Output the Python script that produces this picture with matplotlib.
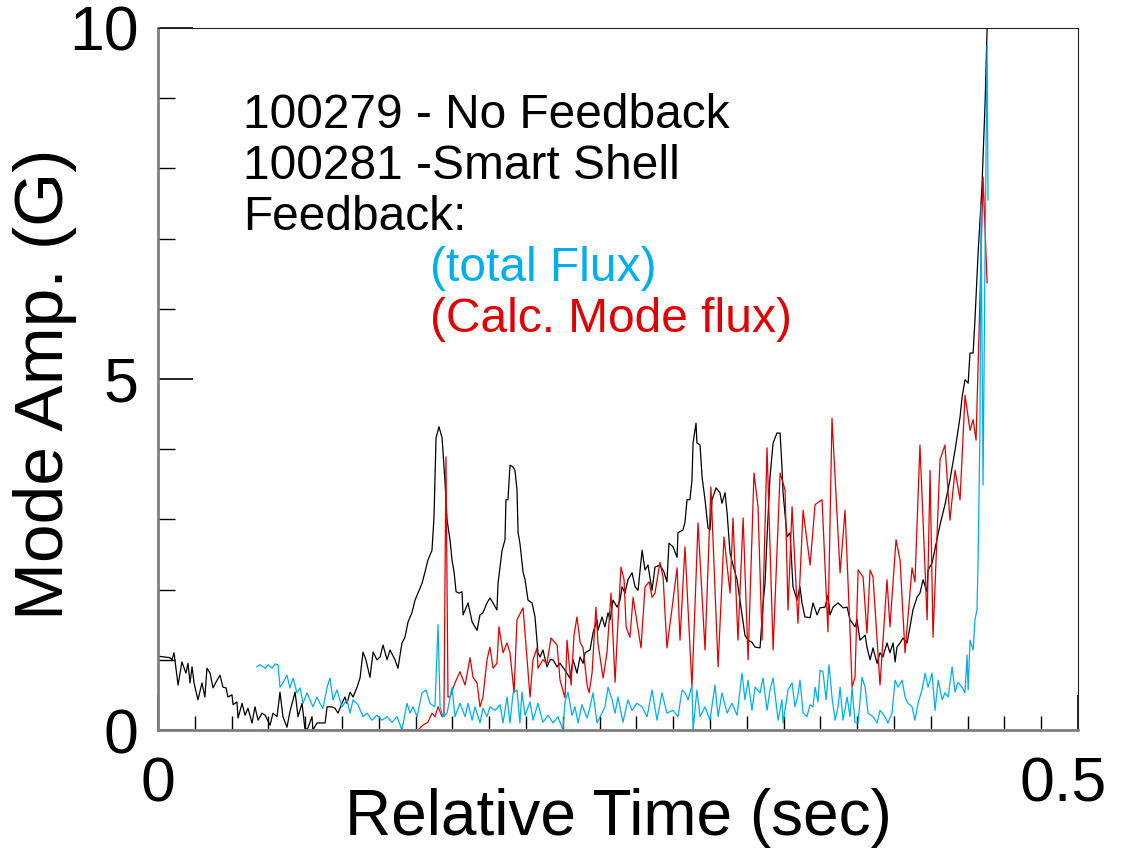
import numpy as np
import matplotlib
matplotlib.use("Agg")
import matplotlib.pyplot as plt
from matplotlib.ticker import MultipleLocator, FixedLocator
from matplotlib.transforms import ScaledTranslation

plt.rcParams['font.family'] = ['Liberation Sans', 'DejaVu Sans']

# shot 100279 - no feedback (time in ms, mode amplitude in G)
t_nofb = [0.5, 6.5, 7.6, 8.7, 10.9, 13.0, 15.2, 16.3, 17.4, 18.5, 19.6, 21.7, 23.9, 25.5,
          26.6, 28.3, 29.9, 32.1, 33.7, 35.3, 37.0, 38.0, 40.2, 40.8, 42.9, 43.5, 45.7,
          47.3, 48.9, 51.1, 52.7, 54.4, 56.5, 58.2, 60.9, 62.5, 64.7, 66.3, 67.9, 70.1,
          71.7, 74.5, 76.1, 78.3, 79.9, 81.5, 83.7, 84.2, 86.4, 90.8, 91.9, 94.6, 96.2,
          97.8, 100.0, 101.6, 102.7, 104.4, 106.0, 108.2, 109.8, 111.4, 113.0, 115.2,
          116.9, 119.0, 120.7, 122.3, 124.5, 126.1, 128.8, 130.4, 132.6, 134.2, 135.9,
          138.0, 139.7, 141.3, 143.5, 145.1, 146.7, 148.9, 150.0, 151.1, 152.7, 154.4,
          156.0, 157.1, 158.7, 159.8, 160.9, 162.0, 163.6, 165.2, 165.8, 168.5, 170.7,
          173.4, 175.0, 176.6, 178.8, 180.4, 182.1, 184.2, 184.8, 187.0, 188.6, 189.1,
          190.2, 191.3, 192.9, 194.0, 195.1, 195.7, 196.7, 198.4, 199.5, 201.1, 203.3,
          204.9, 206.5, 207.6, 209.2, 211.4, 213.1, 214.7, 216.9, 218.5, 221.2, 223.9,
          225.6, 227.7, 229.4, 231.0, 232.1, 234.8, 236.4, 238.6, 239.1, 241.3, 242.9,
          244.6, 245.7, 247.3, 249.5, 251.1, 252.2, 253.8, 255.4, 257.6, 259.3, 260.9,
          263.1, 264.7, 266.3, 268.5, 270.1, 272.8, 275.0, 276.6, 277.7, 279.9, 282.1,
          282.6, 285.3, 286.4, 287.5, 289.1, 290.2, 290.8, 292.4, 292.9, 294.6, 295.7,
          297.3, 298.9, 300.0, 301.1, 303.3, 305.4, 306.5, 308.2, 309.3, 310.9, 312.5,
          314.7, 316.3, 317.9, 319.0, 320.7, 322.8, 324.5, 327.2, 328.8, 329.9, 331.0,
          332.6, 334.3, 336.4, 338.1, 339.1, 339.7, 341.9, 343.5, 345.1, 347.3, 348.9,
          350.0, 351.6, 354.4, 356.0, 358.2, 359.8, 362.5, 364.1, 365.2, 366.9, 369.6,
          372.3, 374.5, 376.1, 378.8, 379.9, 381.5, 384.3, 385.3, 387.0, 388.6, 390.8,
          392.4, 394.0, 396.2, 397.8, 399.5, 400.6, 401.6, 403.3, 404.9, 407.1, 408.7,
          410.3, 412.5, 414.1, 415.8, 417.9, 418.5, 420.7, 422.8, 425.0, 427.7, 430.4,
          433.2, 434.8, 435.9, 437.0, 438.6, 440.3, 441.3, 443.0, 444.0, 445.7, 447.8,
          449.5, 450.6]
amp_nofb = [1.05, 1.03, 1.00, 1.10, 0.64, 0.97, 0.81, 0.95, 0.67, 0.90, 0.67, 0.43, 0.67, 0.47,
            0.88, 0.81, 0.60, 0.71, 0.78, 0.61, 0.60, 0.47, 0.50, 0.36, 0.40, 0.17, 0.38,
            0.21, 0.31, 0.10, 0.33, 0.14, 0.24, 0.21, 0.07, 0.24, 0.19, 0.54, 0.19, 0.04,
            0.26, 0.54, 0.19, 0.38, 0.00, 0.03, 0.19, 0.00, 0.10, 0.10, 0.33, 0.33, 0.31,
            0.24, 0.38, 0.47, 0.38, 0.54, 0.47, 0.61, 0.74, 1.11, 1.00, 0.75,
            1.11, 1.00, 1.04, 1.21, 1.00, 1.14, 1.00, 0.88, 1.24, 1.32, 1.54,
            1.67, 1.85, 1.95, 2.09, 2.25, 2.42, 2.56, 3.03, 4.16, 4.32, 4.16,
            3.52, 2.99, 2.71, 2.42, 2.25, 1.97, 1.95, 1.97, 1.64, 1.81, 1.54,
            1.42, 1.64, 1.67, 1.81, 1.88, 1.81, 1.71, 2.09, 2.56, 2.71, 3.28,
            3.28, 3.77, 3.75, 3.70, 3.42, 2.81, 2.66, 2.25, 2.14, 1.85, 1.81,
            1.61, 1.10, 1.04, 1.14, 0.90, 1.00, 1.00, 0.90, 0.95, 0.85, 0.74,
            1.00, 0.81, 1.04, 0.95, 1.10, 1.14, 1.38, 1.57, 1.42, 1.61, 1.47,
            1.67, 1.57, 1.85, 1.75, 1.85, 2.04, 1.95, 2.14, 2.24, 2.04, 1.99,
            2.56, 2.28, 2.35, 1.99, 2.32, 2.35, 2.25, 2.11, 2.66, 2.61, 2.46,
            2.81, 2.85, 2.96, 3.28, 3.28, 3.56, 4.09, 4.37, 4.09, 4.06, 3.60,
            3.28, 2.88, 2.85, 3.28, 3.45, 3.38, 3.23, 3.38, 3.09, 2.52, 2.35,
            2.14, 1.85, 1.57, 1.35, 1.28, 1.25, 1.18, 1.17, 1.78, 2.09, 2.75,
            3.60, 4.09, 4.23, 4.23, 3.75, 3.38, 2.75, 2.81, 2.04, 1.85, 2.04,
            1.81, 1.61, 1.60, 1.81, 1.64, 1.74, 1.75, 1.92, 1.64, 1.75, 1.81,
            1.74, 1.75, 1.57, 1.47, 1.57, 1.28, 1.35, 1.18, 1.00, 1.17, 0.95,
            1.10, 1.04, 1.24, 1.10, 1.24, 0.97, 1.18, 1.24, 1.31, 1.24, 1.47,
            1.71, 1.89, 1.95, 2.14, 1.97, 2.28, 2.38, 2.64, 2.92, 3.21, 3.56,
            3.99, 4.27, 4.46, 4.74, 4.99, 4.94, 5.37, 5.37, 5.84, 6.79, 7.74,
            8.93, 10.0]

# shot 100281 - smart shell feedback, calculated mode flux
t_mode = [57.1, 140.8, 141.3, 144.0, 146.7, 148.9, 150.5, 152.2, 154.4, 155.4, 156.5, 157.6,
          158.7, 161.4, 164.1, 166.9, 169.6, 171.2, 173.4, 175.0, 176.6, 178.8, 180.4,
          182.1, 184.2, 185.3, 187.5, 189.7, 191.3, 193.5, 195.1, 198.4, 202.2, 203.8,
          206.0, 206.5, 209.2, 211.4, 213.6, 216.9, 218.5, 221.2, 222.3, 224.5, 226.1,
          227.7, 229.4, 231.0, 233.2, 234.3, 235.9, 238.0, 239.1, 241.9, 244.0, 246.2,
          248.4, 250.0, 251.6, 253.3, 254.4, 256.5, 258.2, 262.5, 264.7, 266.9, 268.5,
          270.1, 272.8, 274.5, 276.6, 279.4, 282.1, 283.7, 286.4, 290.2, 293.5, 297.3,
          300.5, 304.4, 307.6, 310.9, 312.5, 315.2, 318.0, 320.7, 323.9, 326.1, 328.3,
          331.0, 334.3, 338.1, 340.8, 342.4, 344.6, 347.8, 350.6, 354.4, 357.1, 360.9,
          364.1, 366.3, 370.7, 373.4, 376.1, 377.2, 378.8, 380.5, 383.2, 385.3, 387.0,
          388.6, 392.4, 396.2, 397.8, 401.1, 403.3, 406.0, 409.8, 411.4, 414.1, 418.0,
          419.6, 421.2, 425.0, 427.7, 430.4, 433.2, 435.9, 438.6, 441.3, 443.0, 444.6,
          446.7, 448.4, 450.6]
amp_mode = [0.00, 0.00, 0.00, 0.07, 0.11, 0.24, 0.19, 0.33, 0.19, 0.19, 3.89, 0.47,
            0.47, 0.67, 0.83, 0.64, 1.03, 0.75, 0.67, 0.33, 0.47, 1.00, 1.18,
            0.88, 0.95, 1.47, 1.10, 1.24, 1.10, 0.53, 1.57, 1.74, 0.47, 1.00,
            1.17, 0.88, 1.00, 0.95, 1.31, 1.21, 0.71, 0.46, 1.28, 0.64, 1.35,
            1.61, 1.25, 1.17, 0.64, 0.53, 0.81, 1.75, 1.24, 0.74, 1.10, 1.95,
            0.68, 1.54, 2.32, 2.14, 1.47, 1.32, 1.89, 1.17, 2.04, 2.11, 1.89,
            1.95, 2.39, 2.18, 1.17, 1.74, 2.31, 1.28, 2.61, 0.61, 2.95, 1.14,
            3.46, 0.90, 2.75, 1.95, 3.02, 1.28, 3.02, 1.00, 3.66, 3.18, 1.28,
            4.02, 1.14, 3.66, 3.42, 1.71, 3.18, 1.52, 3.13, 2.35, 3.21, 3.28,
            1.40, 4.44, 2.24, 3.13, 1.42, 0.61, 0.75, 2.28, 2.18, 1.38, 2.28,
            2.18, 0.64, 2.14, 1.47, 2.71, 2.42, 1.10, 2.31, 2.11, 4.06, 1.57,
            3.70, 1.32, 3.85, 4.06, 2.99, 3.70, 3.28, 4.77, 4.27, 4.42, 4.13,
            6.13, 7.88, 6.37]

# shot 100281 - smart shell feedback, total flux
t_flux = [53.8, 55.4, 58.2, 59.8, 62.0, 63.6, 65.2, 66.3, 67.9, 70.1, 71.7, 73.4, 75.5, 77.2,
          78.8, 81.0, 82.6, 84.2, 86.4, 88.0, 89.7, 91.9, 93.5, 95.1, 97.3, 100.0, 102.7,
          104.4, 106.0, 108.7, 111.4, 113.6, 116.3, 119.0, 121.7, 124.5, 127.2, 129.9,
          132.6, 135.3, 137.0, 138.6, 140.8, 143.5, 145.7, 147.8, 150.5, 152.2, 153.3,
          154.9, 157.1, 159.8, 161.4, 164.1, 166.9, 168.5, 170.7, 172.3, 175.0, 176.6,
          178.8, 180.4, 183.2, 185.9, 187.5, 189.7, 191.3, 193.0, 195.1, 196.7, 197.8,
          199.5, 202.2, 203.8, 206.5, 209.2, 212.0, 214.7, 217.4, 220.1, 221.2, 222.8,
          225.0, 226.6, 228.3, 230.4, 233.2, 234.8, 236.4, 238.6, 241.3, 242.9, 244.6,
          246.8, 248.4, 250.0, 252.7, 255.4, 257.6, 260.3, 263.1, 265.8, 268.5, 271.2,
          273.9, 276.6, 279.9, 282.6, 284.8, 286.4, 288.1, 290.2, 290.8, 292.9, 294.6,
          297.3, 300.0, 302.7, 304.4, 306.5, 309.3, 312.0, 314.7, 317.4, 319.0, 320.7,
          322.8, 324.5, 327.2, 328.8, 331.0, 332.6, 334.3, 337.0, 339.1, 339.7, 342.4,
          344.6, 346.2, 347.8, 348.9, 350.6, 352.7, 354.4, 356.0, 357.1, 358.7, 359.8,
          361.4, 363.1, 364.7, 366.3, 368.0, 369.6, 370.7, 372.3, 374.5, 376.1, 377.2,
          378.8, 380.5, 382.6, 384.3, 385.9, 388.6, 390.8, 392.4, 395.1, 396.7, 398.9,
          400.6, 402.2, 404.4, 406.0, 407.6, 409.8, 411.4, 413.1, 415.2, 416.9, 418.5,
          420.7, 422.3, 424.0, 426.2, 427.7, 429.4, 431.6, 433.2, 434.8, 437.0, 438.6,
          439.7, 440.3, 441.3, 443.0, 444.0, 445.1, 445.7, 446.7, 447.3, 448.4, 449.5,
          450.6, 451.1]
amp_flux = [0.90, 0.93, 0.88, 0.93, 0.88, 0.94, 0.93, 0.61, 0.67, 0.78, 0.60, 0.74, 0.53, 0.60,
            0.38, 0.53, 0.43, 0.33, 0.47, 0.38, 0.31, 0.61, 0.74, 0.43, 0.57, 0.33, 0.43,
            0.24, 0.43, 0.36, 0.19, 0.24, 0.14, 0.21, 0.14, 0.19, 0.11, 0.19,
            0.00, 0.38, 0.24, 0.33, 0.19, 0.53, 0.57, 0.38, 0.33, 1.50, 0.33,
            0.19, 0.24, 0.61, 0.19, 0.38, 0.19, 0.38, 0.14, 0.33, 0.10, 0.31,
            0.19, 0.33, 0.28, 0.36, 0.10, 0.47, 0.10, 0.53, 0.57, 0.10, 0.54,
            0.21, 0.40, 0.14, 0.38, 0.11, 0.21, 0.10, 0.19, 0.00, 0.40, 0.54,
            0.21, 0.33, 0.10, 0.36, 0.17, 0.33, 0.53, 0.10, 0.24, 0.33, 0.61,
            0.43, 0.24, 0.47, 0.11, 0.43, 0.28, 0.38, 0.33, 0.19, 0.57, 0.14,
            0.53, 0.24, 0.28, 0.19, 0.57, 0.53, 0.43, 0.64, 0.00, 0.57, 0.19,
            0.33, 0.14, 0.64, 0.19, 0.53, 0.24, 0.38, 0.21, 0.81, 0.43, 0.71,
            0.28, 0.61, 0.53, 0.74, 0.28, 0.57, 0.74, 0.14, 0.43, 0.10, 0.57,
            0.67, 0.33, 0.50, 0.71, 0.24, 0.19, 0.36, 0.33, 0.61, 0.40, 0.85,
            0.83, 0.43, 0.93, 0.47, 0.14, 0.33, 0.61, 0.14, 0.47, 0.19, 0.61,
            0.11, 0.10, 0.75, 0.61, 0.24, 0.19, 0.10, 0.28, 0.19, 0.10, 0.24,
            0.71, 0.61, 0.71, 0.47, 0.38, 0.33, 0.14, 0.38, 0.57, 0.81, 0.61,
            0.81, 0.28, 0.71, 0.43, 0.53, 0.47, 0.90, 0.54, 0.68, 0.61, 0.53,
            1.07, 0.57, 1.28, 1.14, 1.57, 1.71, 2.42, 4.27, 7.48, 3.49, 6.84,
            9.76, 7.55]

notes = ["100279 - No Feedback", "100281 -Smart Shell", "Feedback:"]
note_flux = "(total Flux)"
note_mode = "(Calc. Mode flux)"

BLUE = '#00AEEF'
RED = '#E00000'

fig = plt.figure(figsize=(11.23, 8.5), dpi=100)
ax = fig.add_axes([158/1123, 1 - 730/850, 920/1123, 702/850])

ax.plot(np.array(t_nofb) / 1000, amp_nofb, color='black', lw=0.9)
ax.plot(np.array(t_mode) / 1000, amp_mode, color=RED, lw=0.9)
ax.plot(np.array(t_flux) / 1000, amp_flux, color=BLUE, lw=0.9)

ax.set_xlim(0, 0.5)
ax.set_ylim(0, 10)

ax.xaxis.set_major_locator(FixedLocator([0, 0.5]))
ax.xaxis.set_minor_locator(MultipleLocator(0.02))
ax.yaxis.set_major_locator(FixedLocator([0, 5, 10]))
ax.yaxis.set_minor_locator(MultipleLocator(1))
ax.set_xticklabels(['0', '0.5'])
ax.set_yticklabels(['0', '5', '10'])

ax.tick_params(which='both', direction='in', top=False, right=False,
               labelsize=45, colors='black')
ax.tick_params(axis='y', which='major', length=25, width=1.2, pad=14)
ax.tick_params(axis='y', which='minor', length=12, width=1.0)
ax.tick_params(axis='x', which='major', length=25, width=1.2, pad=18)
ax.tick_params(axis='x', which='minor', length=10, width=1.0)

# the 0.5 label sits a little left of the axis end in the original
lab = ax.get_xticklabels()[1]
lab.set_transform(lab.get_transform() + ScaledTranslation(-0.15, 0, fig.dpi_scale_trans))

for side in ['left', 'bottom']:
    ax.spines[side].set_color('#7f7f7f')
    ax.spines[side].set_linewidth(2.0)
for side in ['top', 'right']:
    ax.spines[side].set_color('#222222')
    ax.spines[side].set_linewidth(0.8)

ax.set_xlabel('Relative Time (sec)', fontsize=46, va='baseline')
ax.xaxis.set_label_coords(0.5, -105/702)
ax.set_ylabel('Mode Amp. (G)', fontsize=50, va='center')
ax.yaxis.set_label_coords(-113/920, 0.493)

y0 = 128
for i, s in enumerate(notes):
    fig.text(243/1123, 1 - (y0 + 51*i)/850, s, fontsize=34.5, color='black', va='baseline')
fig.text(430/1123, 1 - (y0 + 51*3)/850, note_flux, fontsize=34.5, color=BLUE, va='baseline')
fig.text(430/1123, 1 - (y0 + 51*4)/850, note_mode, fontsize=34.5, color=RED, va='baseline')

fig.savefig('out.png', dpi=100)
